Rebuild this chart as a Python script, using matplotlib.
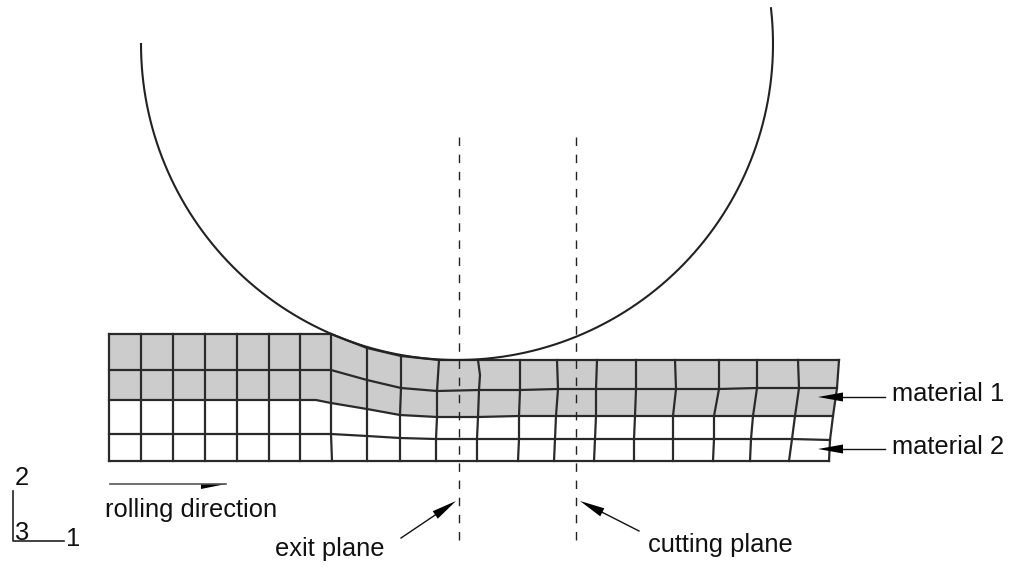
import numpy as np
import matplotlib
matplotlib.use('Agg')
import matplotlib.pyplot as plt

plt.rcParams['font.family'] = ['Liberation Sans', 'DejaVu Sans']

# Mesh nodes, in image pixels (one list per row, top to bottom)
row1_x = [109, 141, 173, 205, 237, 269, 300, 331, 367, 401, 439, 478, 520, 557, 597, 636, 675, 719, 757, 798, 839]
row2_x = [109, 141, 173, 205, 237, 269, 300, 331, 367, 401, 437, 479, 520, 558, 596, 636, 676, 719, 757, 799, 837]
row3_x = [109, 141, 173, 205, 237, 269, 300, 331, 367, 400, 437, 478, 519, 556, 596, 635, 673, 714, 753, 795, 833]
row4_x = [109, 141, 173, 205, 237, 269, 300, 331, 367, 400, 436, 477, 519, 555, 595, 634, 673, 714, 751, 792, 830]
row5_x = [109, 141, 173, 205, 237, 269, 300, 332, 367, 400, 436, 477, 518, 554, 594, 634, 673, 713, 750, 789, 829]

row1_y = [334, 334, 334, 334, 334, 334, 334, 334, 348, 356, 360, 360, 360, 360, 360, 360, 360, 360, 360, 360, 360]
row2_y = [370, 370, 370, 370, 370, 370, 370, 370, 380, 388, 391, 390, 390, 389, 389, 389, 389, 389, 388, 388, 388]
row3_y = [400, 400, 400, 400, 400, 400, 400, 403, 409, 415, 417, 417, 416, 416, 416, 416, 416, 416, 416, 416, 416]
row4_y = [434, 434, 434, 434, 434, 434, 434, 434, 436, 438, 439, 439, 439, 439, 439, 439, 439, 439, 439, 439, 440]
row5_y = [461, 461, 461, 461, 461, 461, 461, 461, 461, 461, 461, 461, 461, 461, 461, 461, 461, 461, 461, 461, 461]

# Where the material boundary starts to dip, between two nodes
kink_x, kink_y = 316, 400

# Bulge in the element column just past the exit plane
bulge_col, bulge_x, bulge_y = 11, 480.5, 375

# Roll
roll_cx, roll_cy, roll_r = 457, 44, 316
roll_start, roll_end = 180, 366.5

# Dashed planes
plane_x = [459, 576]
plane_top, plane_bottom = 137, 540

labels = ['rolling direction', 'exit plane', 'cutting plane', 'material 1', 'material 2', '2', '3', '1']
label_x = [105, 275, 648, 892, 892, 15, 14, 66]
label_y = [510, 549, 545, 394, 447, 478, 533, 539]

# Callout arrows: tail x, tail y, tip x, tip y
arrow_tail_x = [885, 885, 401, 639]
arrow_tail_y = [397, 449, 538, 531]
arrow_tip_x = [818, 818, 456, 580]
arrow_tip_y = [397, 449, 501, 501]

line_col = '#2a2a2a'


def callout(x0, y0, x1, y1, length=25, half=4.5):
    # long narrow head, same shape as the figure's arrows
    d = np.array([x1 - x0, y1 - y0], dtype=float)
    d /= np.hypot(*d)
    n = np.array([-d[1], d[0]])
    tip = np.array([x1, y1])
    back = tip - d * length
    ax.plot([x0, back[0]], [y0, back[1]], color='#111111', lw=1.0, zorder=6)
    pts = np.array([tip, back + n * half, back - n * half])
    ax.fill(pts[:, 0], pts[:, 1], color='black', lw=0, zorder=6)


fig = plt.figure(figsize=(10.15, 5.67), dpi=100)
ax = fig.add_axes([0, 0, 1, 1])
ax.set_xlim(0, 1015)
ax.set_ylim(567, 0)
ax.axis('off')

xs = np.array([row1_x, row2_x, row3_x, row4_x, row5_x])
ys = np.array([row1_y, row2_y, row3_y, row4_y, row5_y])

# Boundary of material 1 with the extra kink node
bx = np.insert(xs[2], 7, kink_x)
by = np.insert(ys[2], 7, kink_y)

# Material 1 is the top two layers of the mesh
ax.fill(np.r_[xs[0], bx[::-1]], np.r_[ys[0], by[::-1]], color='#cccccc', lw=0, zorder=1)

for i in [0, 1, 3, 4]:
    ax.plot(xs[i], ys[i], color=line_col, lw=1.6, zorder=2)
ax.plot(bx, by, color=line_col, lw=1.6, zorder=2)
for j in range(xs.shape[1]):
    col_x, col_y = xs[:, j], ys[:, j]
    if j == bulge_col:
        col_x = np.insert(col_x, 1, bulge_x)
        col_y = np.insert(col_y, 1, bulge_y)
    ax.plot(col_x, col_y, color=line_col, lw=1.6, zorder=2)

t = np.radians(np.linspace(roll_start, roll_end, 400))
ax.plot(roll_cx + roll_r * np.cos(t), roll_cy - roll_r * np.sin(t), color='#222222', lw=1.5, zorder=3)

for x in plane_x:
    ax.plot([x, x], [plane_top, plane_bottom], color='#222222', lw=1, dashes=(6.1, 6.25), zorder=4)

# Half arrow under the rolling direction line
ax.plot([110, 226], [484, 484], color='#555555', lw=1.2)
ax.fill([201, 226, 201], [484, 484, 489], color='black', lw=0)

for a, b, c, d in zip(arrow_tail_x, arrow_tail_y, arrow_tip_x, arrow_tip_y):
    callout(a, b, c, d)

# Axis triad
ax.plot([13, 13, 64], [491, 541, 541], color='#222222', lw=1.2)

for s, x, y in zip(labels, label_x, label_y):
    ax.text(x, y, s, fontsize=18.4, color='#111111', ha='left', va='center')

fig.savefig('out.png', dpi=100)
